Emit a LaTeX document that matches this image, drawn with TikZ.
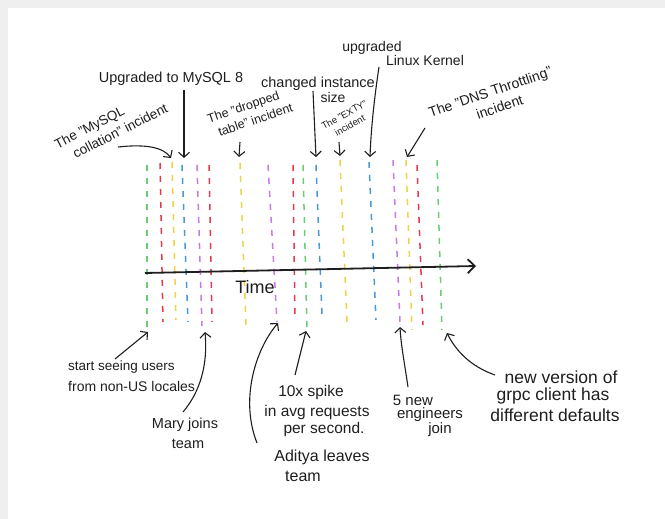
\documentclass[tikz,border=0pt]{standalone}
\usepackage{fontspec}
\setmainfont{Liberation Sans}
\usetikzlibrary{arrows.meta}
\definecolor{cgreen}{HTML}{6CCB74}
\definecolor{cred}{HTML}{E23A50}
\definecolor{cyellow}{HTML}{EDD34A}
\definecolor{cblue}{HTML}{4A98D6}
\definecolor{cpurple}{HTML}{C77BE3}
\definecolor{ink}{HTML}{1E1E1E}
\definecolor{edgegrey}{HTML}{EFEFEF}
\newcommand\fsz[1]{\fontsize{#1}{#1}\selectfont}
\newcommand\fszl[2]{\fontsize{#1}{#2}\selectfont}
\begin{document}
\begin{tikzpicture}[x=1pt,y=-1pt,
  evt/.style={line width=1.5pt, dash pattern=on 6pt off 7pt},
  lbl/.style={inner sep=0pt, text=ink},
  ptr/.style={draw=ink, line width=1.1pt, -{Straight Barb[length=5pt,width=11pt]}},
  axis/.style={draw=ink, line width=1.8pt, -{Straight Barb[length=7pt,width=14pt]}}]
\useasboundingbox (0,0) rectangle (665,519);
\fill[edgegrey] (0,0) rectangle (665,8);
\fill[edgegrey] (0,0) rectangle (8,519);

% event lines
\foreach \n/\c/\xa/\ya/\xb/\yb in {
  1/cgreen/147/165/147/327, 2/cred/160/163/163/322, 3/cyellow/172/162/176/320,
  4/cblue/182/165/188/322, 5/cpurple/197/165/202/326, 6/cred/209/165/212/322,
  7/cyellow/240/163/246/325, 8/cpurple/268/165/277/322, 9/cred/293/165/295/320,
  10/cgreen/303/165/307/330, 11/cblue/316/165/322/315, 12/cyellow/340/160/347/322,
  13/cblue/369/162/376/320, 14/cpurple/393/160/400/322, 15/cyellow/406/160/412/330,
  16/cred/417/165/423/325, 17/cgreen/437/160/442/330} {
  \coordinate (t\n) at (\xa,\ya);
  \coordinate (b\n) at (\xb,\yb);
  \draw[evt,\c] (t\n) -- (b\n);
}

% time axis
\coordinate (ax0) at (145,273);
\coordinate (ax1) at (476,266);
\draw[axis] (ax0) -- (ax1);
\node[lbl, font=\fsz{18}] (time) at (255,287) {Time};

% top labels
\node[lbl, font=\fsz{14.5}] (m8) at (171,79) {Upgraded to MySQL 8};
\node[lbl, font=\fszl{13.5}{17}, rotate=27, align=left] (coll) at (111,126)
  {The "MySQL\\\hspace*{12pt}collation" incident};
\node[lbl, font=\fszl{12.5}{16}, rotate=19, align=left] (drop) at (250,113)
  {The "dropped\\\hspace*{6pt}table" incident};
\node[lbl, font=\fsz{14.5}] (chg1) at (318,84) {changed instance};
\node[lbl, font=\fsz{14}] (chg2) at (333,97) {size};
\node[lbl, font=\fszl{9.5}{12}, rotate=29, align=center] (exty) at (347,120)
  {The "EXTY"\\incident};
\node[lbl, font=\fsz{14}] (up1) at (372,48) {upgraded};
\node[lbl, font=\fsz{14}] (up2) at (425,60) {Linux Kernel};
\node[lbl, font=\fszl{14}{17.5}, rotate=19, align=center] (dns) at (493,100)
  {The "DNS Throttling"\\\hspace*{8pt}incident};

% bottom labels
\node[lbl, font=\fsz{13.5}, anchor=west] (start1) at (68,367) {start seeing users};
\node[lbl, font=\fsz{14}, anchor=west] (start2) at (68,386) {from non-US locales};
\node[lbl, font=\fsz{14.5}] (mary1) at (185,425) {Mary joins};
\node[lbl, font=\fsz{14.5}] (mary2) at (188,444) {team};
\node[lbl, font=\fsz{16}] (adi1) at (322,457) {Aditya leaves};
\node[lbl, font=\fsz{16}] (adi2) at (303,476) {team};
\node[lbl, font=\fsz{15.5}] (spike1) at (311,392) {10x spike};
\node[lbl, font=\fsz{15.5}] (spike2) at (317,412) {in avg requests};
\node[lbl, font=\fsz{15.5}] (spike3) at (324,429) {per second.};
\node[lbl, font=\fsz{15}] (five1) at (413,400) {5 new};
\node[lbl, font=\fsz{15}] (five2) at (430,415) {engineers};
\node[lbl, font=\fsz{15}] (five3) at (440,430) {join};
\node[lbl, font=\fsz{17.5}] (grpc1) at (561,377) {new version of};
\node[lbl, font=\fsz{17.5}] (grpc2) at (553,396) {grpc client has};
\node[lbl, font=\fsz{17.5}] (grpc3) at (555,415) {different defaults};

% pointer coordinates
\coordinate (pm8a) at (184,90);   \coordinate (pm8b) at (184,158);
\coordinate (pcoa) at (118,147);  \coordinate (pcob) at (171,158);
\coordinate (pdra) at (240,142);  \coordinate (pdrb) at (239,157);
\coordinate (pcha) at (313,91);   \coordinate (pchb) at (316,157);
\coordinate (pexa) at (339,142);  \coordinate (pexb) at (340,156);
\coordinate (plia) at (379,67);   \coordinate (plib) at (370,157);
\coordinate (pdna) at (425,128);  \coordinate (pdnb) at (407,157);
\coordinate (psta) at (115,359);  \coordinate (pstb) at (148,332);
\coordinate (pmaa) at (183,412);  \coordinate (pmab) at (205,332);
\coordinate (pada) at (257,443);  \coordinate (padb) at (278,323);
\coordinate (pspa) at (295,375);  \coordinate (pspb) at (306,331);
\coordinate (pfia) at (408,387);  \coordinate (pfib) at (400,327);
\coordinate (pgra) at (495,375);  \coordinate (pgrb) at (447,333);

% pointers
\draw[ptr] (pm8a) -- (pm8b);
\draw[ptr] (pcoa) .. controls (145,144) and (163,147) .. (pcob);
\draw[ptr] (pdra) -- (pdrb);
\draw[ptr] (pcha) -- (pchb);
\draw[ptr] (pexa) -- (pexb);
\draw[ptr] (plia) .. controls (374,100) and (371,130) .. (plib);
\draw[ptr] (pdna) -- (pdnb);
\draw[ptr] (psta) -- (pstb);
\draw[ptr] (pmaa) .. controls (200,392) and (208,365) .. (pmab);
\draw[ptr] (pada) .. controls (240,400) and (255,350) .. (padb);
\draw[ptr] (pspa) -- (pspb);
\draw[ptr] (pfia) .. controls (404,360) and (401,345) .. (pfib);
\draw[ptr] (pgra) .. controls (475,368) and (458,355) .. (pgrb);
\end{tikzpicture}
\end{document}
